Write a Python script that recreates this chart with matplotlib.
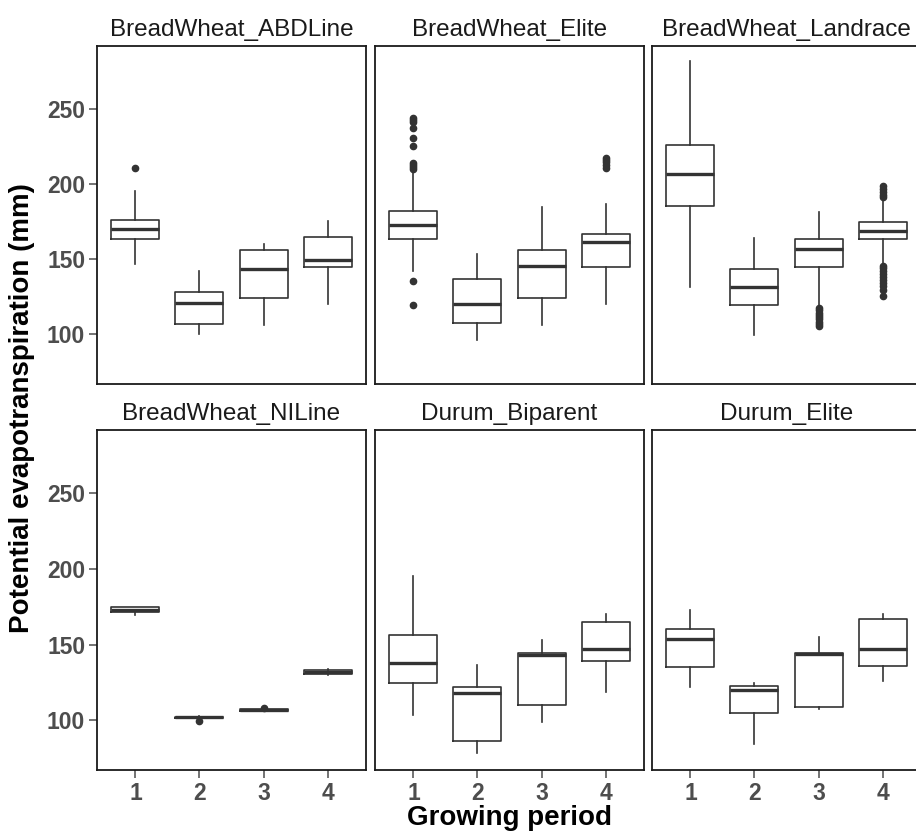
import matplotlib
matplotlib.use("Agg")
import matplotlib.pyplot as plt

plt.rcParams['font.family'] = ['Liberation Sans', 'DejaVu Sans']

panels = ["BreadWheat_ABDLine", "BreadWheat_Elite", "BreadWheat_Landrace",
          "BreadWheat_NILine", "Durum_Biparent", "Durum_Elite"]
periods = ["1", "2", "3", "4"]

# per panel: lists over periods 1..4
whislo = [
    [147.2, 100.2, 106.1, 120.4],
    [142.5, 96.3, 106.1, 120.4],
    [131.3, 99.6, 118.9, 146.3],
    [169.8, 101.0, 106.4, 129.7],
    [103.5, 78.2, 98.7, 118.7],
    [122.0, 83.9, 107.3, 125.8],
]
q1 = [
    [163.2, 106.8, 124.1, 145.2],
    [163.6, 107.5, 124.1, 145.2],
    [185.7, 119.3, 144.9, 163.2],
    [171.6, 101.3, 106.3, 130.8],
    [124.5, 85.9, 110.1, 139.0],
    [135.0, 104.4, 109.0, 135.9],
]
med = [
    [170.2, 120.6, 143.6, 149.6],
    [172.8, 120.0, 145.4, 161.8],
    [207.0, 131.6, 156.6, 168.9],
    [173.0, 101.8, 106.7, 132.1],
    [137.8, 117.8, 143.4, 147.4],
    [154.0, 120.0, 143.6, 146.9],
]
q3 = [
    [176.5, 128.3, 155.9, 165.1],
    [182.2, 137.0, 155.9, 166.7],
    [226.3, 143.4, 163.4, 174.6],
    [174.7, 102.3, 107.1, 133.5],
    [156.5, 122.2, 144.7, 165.0],
    [160.1, 122.7, 144.5, 166.8],
]
whishi = [
    [195.6, 142.3, 160.0, 175.4],
    [209.9, 153.7, 184.6, 186.6],
    [281.8, 164.3, 181.8, 190.6],
    [175.0, 102.5, 107.3, 133.7],
    [195.4, 136.5, 153.3, 170.5],
    [172.9, 124.7, 155.3, 170.5],
]
fliers = [
    [[210.5], [], [], []],
    [[243.9, 242.5, 241.7, 237.3, 230.7, 225.2, 213.8, 212.5, 211.6, 209.9, 135.3, 119.5],
     [], [],
     [217.5, 216.0, 214.5, 212.5, 211.0]],
    [[], [],
     [117.8, 116.0, 114.5, 113.0, 111.5, 110.0, 108.5, 107.0, 105.5],
     [199.0, 197.0, 195.0, 193.0, 191.5, 145.8, 144.0, 142.0, 140.0, 138.5, 136.0, 134.0, 132.0, 129.5, 125.5]],
    [[], [99.6], [108.1], []],
    [[], [], [], []],
    [[], [], [], []],
]

W, H = 916, 835
fig = plt.figure(figsize=(W / 100, H / 100), dpi=100)
fig.patch.set_facecolor("white")

pw = 269
lefts = [97, 375, 652]
rows = [(46, 384), (430, 770)]
line_col = "#333333"
tick_col = "#4D4D4D"

for i, name in enumerate(panels):
    r, c = divmod(i, 3)
    top, bot = rows[r]
    ax = fig.add_axes([lefts[c] / W, 1 - bot / H, pw / W, (bot - top) / H])
    stats = []
    for j in range(4):
        stats.append(dict(med=med[i][j], q1=q1[i][j], q3=q3[i][j],
                          whislo=whislo[i][j], whishi=whishi[i][j],
                          fliers=fliers[i][j]))
    ax.bxp(stats, positions=[1, 2, 3, 4], widths=0.75, showfliers=True,
           boxprops=dict(color=line_col, linewidth=1.2),
           whiskerprops=dict(color=line_col, linewidth=1.2),
           capprops=dict(linewidth=0),
           medianprops=dict(color=line_col, linewidth=2.4),
           flierprops=dict(marker="o", markerfacecolor=line_col,
                           markeredgecolor=line_col, markersize=4.5, linestyle="none"))
    ax.set_xlim(0.4, 4.6)
    ax.set_ylim(67, 292)
    ax.set_yticks([100, 150, 200, 250])
    ax.set_xticks([1, 2, 3, 4])
    for s in ax.spines.values():
        s.set_color("#1a1a1a")
        s.set_linewidth(1.3)
    ax.tick_params(axis="both", colors=tick_col, length=6, width=1.1,
                   labelsize=16.5, pad=2.5)
    for lab in ax.get_xticklabels() + ax.get_yticklabels():
        lab.set_fontweight("bold")
        lab.set_color(tick_col)
    if c != 0:
        ax.tick_params(axis="y", left=False, labelleft=False)
    if r == 0:
        ax.tick_params(axis="x", bottom=False, labelbottom=False)
    else:
        ax.set_xticklabels(periods)
    ax.set_title(name, fontsize=17.5, color="#1a1a1a", pad=7)

fig.text(509 / W, 1 - 818 / H, "Growing period", ha="center", va="center",
         fontsize=20, fontweight="bold")
fig.text(22 / W, 1 - 408 / H, "Potential evapotranspiration (mm)", ha="center",
         va="center", rotation=90, fontsize=20, fontweight="bold")

fig.savefig("out.png", dpi=100, facecolor="white")
